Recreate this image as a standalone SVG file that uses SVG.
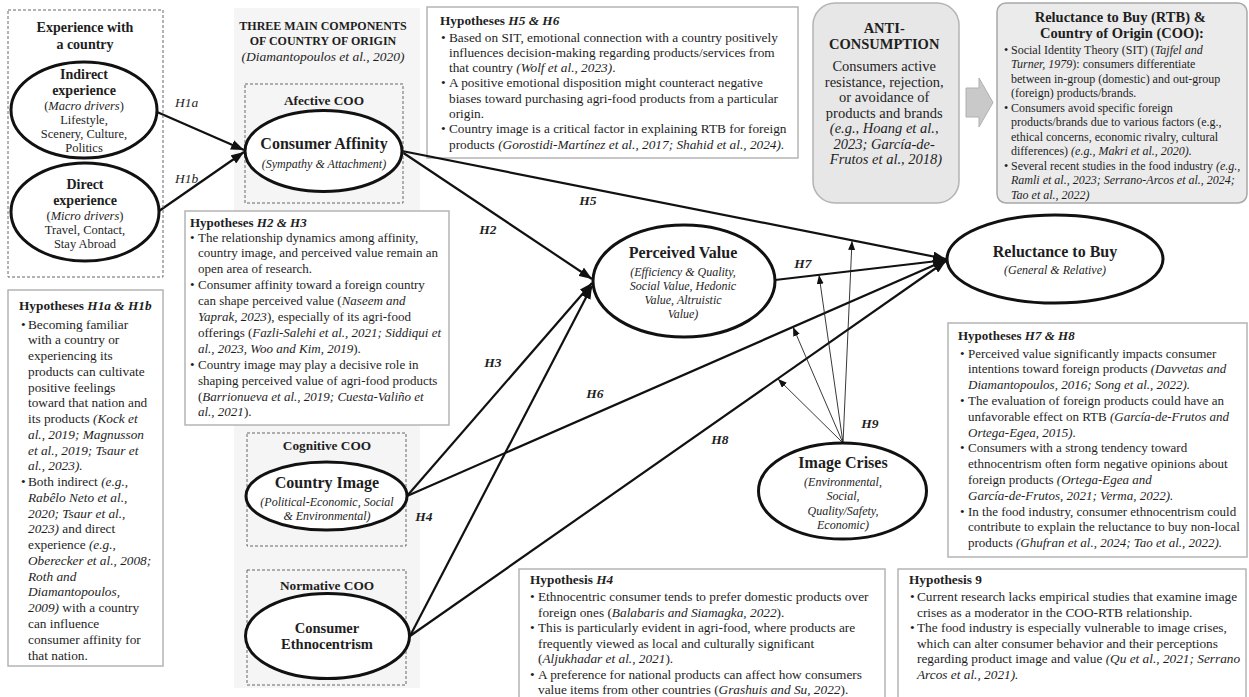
<svg xmlns="http://www.w3.org/2000/svg" width="1249" height="697" viewBox="0 0 1249 697">
<defs>
<style>
text { font-family: "Liberation Serif", "Times New Roman", serif; fill: #1e1e1e; }
.b { font-weight: bold; }
.i { font-style: italic; }
.body { font-size: 13.3px; }
.b13 { font-size: 13px; }
.hbox { fill: #fff; stroke: #b4b4b4; stroke-width: 1.5; }
.dash { fill: none; stroke: #666; stroke-width: 1; stroke-dasharray: 3 2; }
.ell { fill: #fff; stroke: #111; stroke-width: 3; }
.conn { fill: none; stroke: #111; stroke-width: 2.2; marker-end: url(#ah); }
.mod { fill: none; stroke: #222; stroke-width: 0.9; marker-end: url(#ahs); }
.lbl { font-size: 13.5px; font-weight: bold; font-style: italic; text-anchor: middle; }
.c { text-anchor: middle; }
.big { font-size: 16px; font-weight: bold; }
.sub { font-size: 12px; font-style: italic; }
.coo { font-size: 13.3px; font-weight: bold; text-anchor: middle; }
</style>
<marker id="ah" markerUnits="userSpaceOnUse" markerWidth="13" markerHeight="10" refX="13" refY="5" orient="auto"><path d="M0,0 L13,5 L0,10 z" fill="#111"/></marker>
<marker id="ahs" markerUnits="userSpaceOnUse" markerWidth="9" markerHeight="7" refX="9" refY="3.5" orient="auto"><path d="M0,0 L9,3.5 L0,7 z" fill="#111"/></marker>
</defs>
<rect x="0" y="0" width="1249" height="697" fill="#fff"/>

<g id="coo-panel">
<rect x="234" y="8" width="186" height="680" fill="#f5f5f5"/>
<text class="c b" style="font-size:12px" x="323" y="29.5">THREE MAIN COMPONENTS</text>
<text class="c b" style="font-size:12px" x="323" y="44.5">OF COUNTRY OF ORIGIN</text>
<text class="c i" style="font-size:13.5px" x="323" y="60.5">(Diamantopoulos et al., 2020)</text>
</g>

<g id="hyp-h1">
<rect class="hbox" x="8" y="290" width="155" height="376"/>
<text class="body">
<tspan class="b" x="19" y="309.5">Hypotheses <tspan class="i">H1a &amp; H1b</tspan></tspan>
<tspan x="21" y="328.5">•</tspan><tspan x="28">Becoming familiar</tspan>
<tspan x="28" y="344.3">with a country or</tspan>
<tspan x="28" y="360.0">experiencing its</tspan>
<tspan x="28" y="375.8">products can cultivate</tspan>
<tspan x="28" y="391.5">positive feelings</tspan>
<tspan x="28" y="407.3">toward that nation and</tspan>
<tspan x="28" y="423.1">its products <tspan class="i">(Kock et</tspan></tspan>
<tspan class="i" x="28" y="438.8">al., 2019; Magnusson</tspan>
<tspan class="i" x="28" y="454.6">et al., 2019; Tsaur et</tspan>
<tspan class="i" x="28" y="470.3">al., 2023).</tspan>
<tspan x="21" y="486.1">•</tspan><tspan x="28">Both indirect <tspan class="i">(e.g.,</tspan></tspan>
<tspan class="i" x="28" y="501.9">Rabêlo Neto et al.,</tspan>
<tspan class="i" x="28" y="517.6">2020; Tsaur et al.,</tspan>
<tspan x="28" y="533.4"><tspan class="i">2023)</tspan> and direct</tspan>
<tspan x="28" y="549.1">experience <tspan class="i">(e.g.,</tspan></tspan>
<tspan class="i" x="28" y="564.9">Oberecker et al., 2008;</tspan>
<tspan class="i" x="28" y="580.7">Roth and</tspan>
<tspan class="i" x="28" y="596.4">Diamantopoulos,</tspan>
<tspan x="28" y="612.2"><tspan class="i">2009)</tspan> with a country</tspan>
<tspan x="28" y="627.9">can influence</tspan>
<tspan x="28" y="643.7">consumer affinity for</tspan>
<tspan x="28" y="659.5">that nation.</tspan>
</text>
</g>

<g id="hyp-h2-h3">
<rect class="hbox" x="185" y="211" width="264" height="214"/>
<text class="b13">
<tspan class="b" x="190" y="226.5">Hypotheses <tspan class="i">H2 &amp; H3</tspan></tspan>
<tspan x="190" y="241.5">•</tspan><tspan x="198">The relationship dynamics among affinity,</tspan>
<tspan x="198" y="257.4">country image, and perceived value remain an</tspan>
<tspan x="198" y="273.3">open area of research.</tspan>
<tspan x="190" y="289.2">•</tspan><tspan x="198">Consumer affinity toward a foreign country</tspan>
<tspan x="198" y="305.1">can shape perceived value (<tspan class="i">Naseem and</tspan></tspan>
<tspan x="198" y="321.0"><tspan class="i">Yaprak, 2023</tspan>), especially of its agri-food</tspan>
<tspan x="198" y="336.9">offerings (<tspan class="i">Fazli-Salehi et al., 2021; Siddiqui et</tspan></tspan>
<tspan x="198" y="352.8"><tspan class="i">al., 2023, Woo and Kim, 2019</tspan>).</tspan>
<tspan x="190" y="368.7">•</tspan><tspan x="198">Country image may play a decisive role in</tspan>
<tspan x="198" y="384.6">shaping perceived value of agri-food products</tspan>
<tspan x="198" y="400.5">(<tspan class="i">Barrionueva et al., 2019; Cuesta-Valiño et</tspan></tspan>
<tspan x="198" y="416.4"><tspan class="i">al., 2021</tspan>).</tspan>
</text>
</g>

<g id="hyp-h5-h6">
<rect class="hbox" x="427" y="7" width="371" height="151"/>
<text class="body">
<tspan class="b" x="440" y="24.5">Hypotheses <tspan class="i">H5 &amp; H6</tspan></tspan>
<tspan x="441" y="41.5">•</tspan><tspan x="449">Based on SIT, emotional connection with a country positively</tspan>
<tspan x="449" y="56.8">influences decision-making regarding products/services from</tspan>
<tspan x="449" y="72.1">that country <tspan class="i">(Wolf et al., 2023)</tspan>.</tspan>
<tspan x="441" y="87.4">•</tspan><tspan x="449">A positive emotional disposition might counteract negative</tspan>
<tspan x="449" y="102.7">biases toward purchasing agri-food products from a particular</tspan>
<tspan x="449" y="118.0">origin.</tspan>
<tspan x="441" y="133.3">•</tspan><tspan x="449">Country image is a critical factor in explaining RTB for foreign</tspan>
<tspan x="449" y="148.6">products <tspan class="i">(Gorostidi-Martínez et al., 2017; Shahid et al., 2024).</tspan></tspan>
</text>
</g>

<g id="anti-consumption">
<rect x="813" y="3" width="146" height="200" rx="22" fill="#e7e7e7" stroke="#b4b4b4" stroke-width="1.5"/>
<text class="c" style="font-size:14.5px">
<tspan class="b" x="886" y="33">ANTI-</tspan>
<tspan class="b" x="886" y="48.5">CONSUMPTION</tspan>
<tspan x="886" y="71">Consumers active</tspan>
<tspan x="886" y="86.5">resistance, rejection,</tspan>
<tspan x="886" y="102">or avoidance of</tspan>
<tspan x="886" y="117.5">products and brands</tspan>
<tspan class="i" x="886" y="133">(e.g., Hoang et al.,</tspan>
<tspan class="i" x="886" y="148.5">2023; García-de-</tspan>
<tspan class="i" x="886" y="164">Frutos et al., 2018)</tspan>
</text>
</g>

<g id="grey-arrow">
<polygon points="966,88 979,88 979,78 993,102.5 979,127 979,117 966,117" fill="#c9c9c9" stroke="#b0b0b0" stroke-width="1"/>
</g>

<g id="rtb-coo">
<rect x="997" y="3" width="250" height="200" rx="9" fill="#ebebeb" stroke="#a8a8a8" stroke-width="1.5"/>
<text class="c b" style="font-size:14.5px">
<tspan x="1122" y="22">Reluctance to Buy (RTB) &amp;</tspan>
<tspan x="1122" y="37.5">Country of Origin (COO):</tspan>
</text>
<text style="font-size:12px">
<tspan x="1004" y="53.5">•</tspan><tspan x="1011">Social Identity Theory (SIT) (<tspan class="i">Tajfel and</tspan></tspan>
<tspan x="1011" y="68"><tspan class="i">Turner, 1979</tspan>): consumers differentiate</tspan>
<tspan x="1011" y="82.5">between in-group (domestic) and out-group</tspan>
<tspan x="1011" y="97">(foreign) products/brands.</tspan>
<tspan x="1004" y="111.5">•</tspan><tspan x="1011">Consumers avoid specific foreign</tspan>
<tspan x="1011" y="126">products/brands due to various factors (e.g.,</tspan>
<tspan x="1011" y="140.5">ethical concerns, economic rivalry, cultural</tspan>
<tspan x="1011" y="155">differences) <tspan class="i">(e.g., Makri et al., 2020).</tspan></tspan>
<tspan x="1004" y="169.5">•</tspan><tspan x="1011">Several recent studies in the food industry <tspan class="i">(e.g.,</tspan></tspan>
<tspan class="i" x="1011" y="184">Ramli et al., 2023; Serrano-Arcos et al., 2024;</tspan>
<tspan class="i" x="1011" y="198.5">Tao et al., 2022)</tspan>
</text>
</g>

<g id="hyp-h7-h8">
<rect class="hbox" x="948" y="323" width="299" height="234"/>
<text class="b13">
<tspan class="b" x="958" y="339.5">Hypotheses <tspan class="i">H7 &amp; H8</tspan></tspan>
<tspan x="960" y="357.5">•</tspan><tspan x="968">Perceived value significantly impacts consumer</tspan>
<tspan x="968" y="373.3">intentions toward foreign products <tspan class="i">(Davvetas and</tspan></tspan>
<tspan class="i" x="968" y="389.1">Diamantopoulos, 2016; Song et al., 2022).</tspan>
<tspan x="960" y="404.9">•</tspan><tspan x="968">The evaluation of foreign products could have an</tspan>
<tspan x="968" y="420.7">unfavorable effect on RTB <tspan class="i">(García-de-Frutos and</tspan></tspan>
<tspan class="i" x="968" y="436.5">Ortega-Egea, 2015).</tspan>
<tspan x="960" y="452.3">•</tspan><tspan x="968">Consumers with a strong tendency toward</tspan>
<tspan x="968" y="468.1">ethnocentrism often form negative opinions about</tspan>
<tspan x="968" y="483.9">foreign products <tspan class="i">(Ortega-Egea and</tspan></tspan>
<tspan class="i" x="968" y="499.7">García-de-Frutos, 2021; Verma, 2022).</tspan>
<tspan x="960" y="515.5">•</tspan><tspan x="968">In the food industry, consumer ethnocentrism could</tspan>
<tspan x="968" y="531.3">contribute to explain the reluctance to buy non-local</tspan>
<tspan x="968" y="547.1">products <tspan class="i">(Ghufran et al., 2024; Tao et al., 2022).</tspan></tspan>
</text>
</g>

<g id="hyp-h4">
<rect class="hbox" x="519" y="569" width="366" height="140"/>
<text class="body">
<tspan class="b" x="530" y="583.5">Hypothesis <tspan class="i">H4</tspan></tspan>
<tspan x="530" y="601">•</tspan><tspan x="538">Ethnocentric consumer tends to prefer domestic products over</tspan>
<tspan x="538" y="616.5">foreign ones (<tspan class="i">Balabaris and Siamagka, 2022</tspan>).</tspan>
<tspan x="530" y="632">•</tspan><tspan x="538">This is particularly evident in agri-food, where products are</tspan>
<tspan x="538" y="647.5">frequently viewed as local and culturally significant</tspan>
<tspan x="538" y="663">(<tspan class="i">Aljukhadar et al., 2021</tspan>).</tspan>
<tspan x="530" y="678.5">•</tspan><tspan x="538">A preference for national products can affect how consumers</tspan>
<tspan x="538" y="694">value items from other countries (<tspan class="i">Grashuis and Su, 2022</tspan>).</tspan>
</text>
</g>

<g id="hyp-h9">
<rect class="hbox" x="898" y="569" width="348" height="140"/>
<text class="body">
<tspan class="b" x="909" y="583.5">Hypothesis 9</tspan>
<tspan x="910" y="601">•</tspan><tspan x="917">Current research lacks empirical studies that examine image</tspan>
<tspan x="917" y="616.5">crises as a moderator in the COO-RTB relationship.</tspan>
<tspan x="910" y="632">•</tspan><tspan x="917">The food industry is especially vulnerable to image crises,</tspan>
<tspan x="917" y="647.5">which can alter consumer behavior and their perceptions</tspan>
<tspan x="917" y="663">regarding product image and value <tspan class="i">(Qu et al., 2021; Serrano</tspan></tspan>
<tspan class="i" x="917" y="678.5">Arcos et al., 2021).</tspan>
</text>
</g>

<g id="connectors">
<path class="conn" d="M157,112 L244,150"/>
<path class="conn" d="M159,211 L244,152"/>
<path class="conn" d="M402,152 L592,279"/>
<path class="conn" d="M402,151 L946,259"/>
<path class="conn" d="M407,496 L592,283"/>
<path class="conn" d="M410,636 L592,286"/>
<path class="conn" d="M407,496 L946,260"/>
<path class="conn" d="M775,280 L946,260"/>
<path class="conn" d="M410,636 L946,261"/>
<path class="mod" d="M843,443 L852,241"/>
<path class="mod" d="M843,443 L819,275"/>
<path class="mod" d="M843,443 L793,327"/>
<path class="mod" d="M843,443 L778,379"/>
<text class="i" style="font-size:13.5px" x="175" y="107">H1a</text>
<text class="i" style="font-size:13.5px" x="175" y="183">H1b</text>
<text class="lbl" x="488" y="233.5">H2</text>
<text class="lbl" x="493" y="366.5">H3</text>
<text class="lbl" x="424" y="520.5">H4</text>
<text class="lbl" x="588" y="205">H5</text>
<text class="lbl" x="595" y="397.5">H6</text>
<text class="lbl" x="803" y="267.5">H7</text>
<text class="lbl" x="720" y="444">H8</text>
<text class="lbl" x="870" y="427.5">H9</text>
</g>

<g id="experience">
<rect class="dash" x="8" y="10" width="155" height="267"/>
<text class="c b" style="font-size:14px" x="85" y="32">Experience with</text>
<text class="c b" style="font-size:14px" x="85" y="49">a country</text>
</g>
<g id="indirect-experience">
<ellipse class="ell" cx="84" cy="110" rx="73" ry="48"/>
<text class="c b" style="font-size:14px" x="84" y="79">Indirect</text>
<text class="c b" style="font-size:14px" x="84" y="95">experience</text>
<text class="c" style="font-size:12.5px" x="84" y="110">(<tspan class="i">Macro drivers</tspan>)</text>
<text class="c" style="font-size:12.5px" x="84" y="124">Lifestyle,</text>
<text class="c" style="font-size:12.5px" x="84" y="138">Scenery, Culture,</text>
<text class="c" style="font-size:12.5px" x="84" y="152">Politics</text>
</g>
<g id="direct-experience">
<ellipse class="ell" cx="85" cy="212" rx="74" ry="49"/>
<text class="c b" style="font-size:14px" x="85" y="189">Direct</text>
<text class="c b" style="font-size:14px" x="85" y="205">experience</text>
<text class="c" style="font-size:12.5px" x="85" y="220">(<tspan class="i">Micro drivers</tspan>)</text>
<text class="c" style="font-size:12.5px" x="85" y="234">Travel, Contact,</text>
<text class="c" style="font-size:12.5px" x="85" y="248">Stay Abroad</text>
</g>

<g id="consumer-affinity">
<rect class="dash" x="245" y="84" width="158" height="119"/>
<text class="coo" x="324" y="104.5">Afective COO</text>
<ellipse class="ell" cx="323.5" cy="151" rx="78.5" ry="40.5"/>
<text class="c big" x="324" y="148.5">Consumer Affinity</text>
<text class="c sub" x="324" y="168">(Sympathy &amp; Attachment)</text>
</g>

<g id="country-image">
<rect class="dash" x="247" y="433" width="159" height="113"/>
<text class="coo" x="327" y="449.5">Cognitive COO</text>
<ellipse class="ell" cx="326.5" cy="496" rx="80.5" ry="34"/>
<text class="c big" x="327" y="487.5">Country Image</text>
<text class="c sub" x="327" y="506">(Political-Economic, Social</text>
<text class="c sub" x="327" y="519.5">&amp; Environmental)</text>
</g>

<g id="consumer-ethnocentrism">
<rect class="dash" x="247" y="570" width="159" height="115"/>
<text class="coo" x="327" y="589.5">Normative COO</text>
<ellipse class="ell" cx="327.5" cy="636" rx="82" ry="42.5"/>
<text class="c b" style="font-size:14.5px" x="327" y="633">Consumer</text>
<text class="c b" style="font-size:14.5px" x="327" y="649">Ethnocentrism</text>
</g>

<g id="perceived-value">
<ellipse class="ell" cx="684" cy="281" rx="91" ry="56"/>
<text class="c big" x="683" y="257.5">Perceived Value</text>
<text class="c sub" x="683" y="276">(Efficiency &amp; Quality,</text>
<text class="c sub" x="683" y="290">Social Value, Hedonic</text>
<text class="c sub" x="683" y="304">Value, Altruistic</text>
<text class="c sub" x="683" y="318">Value)</text>
</g>

<g id="reluctance-to-buy">
<ellipse class="ell" cx="1055" cy="259" rx="108" ry="44"/>
<text class="c big" x="1055" y="256.5">Reluctance to Buy</text>
<text class="c sub" x="1055" y="274">(General &amp; Relative)</text>
</g>

<g id="image-crises">
<ellipse class="ell" cx="842.5" cy="491" rx="84" ry="48"/>
<text class="c big" x="843" y="467.5">Image Crises</text>
<text class="c sub" x="843" y="486">(Environmental,</text>
<text class="c sub" x="843" y="500">Social,</text>
<text class="c sub" x="843" y="514.5">Quality/Safety,</text>
<text class="c sub" x="843" y="529">Economic)</text>
</g>
</svg>
